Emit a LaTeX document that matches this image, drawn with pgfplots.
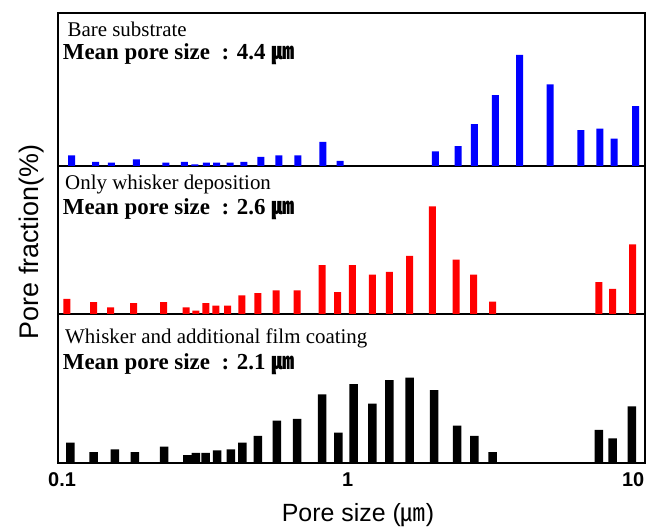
\documentclass[border=0pt]{standalone}
\usepackage{fontspec}
\setmainfont{Liberation Serif}
\setsansfont{Liberation Sans}
\newfontfamily\cjk{Noto Sans CJK KR}
\usepackage{pgfplots}
\pgfplotsset{compat=1.18}
\begin{document}
\begin{tikzpicture}
\useasboundingbox (-58bp,-69bp) rectangle (590bp,463bp);
% panel 3
\begin{axis}[width=587bp, scale only axis, xmode=log, xmin=0.0968, xmax=11.0, ymin=0,
  axis line style={line width=1.4bp}, ytick=\empty, xtick={0.1,1,10},
  major tick length=0pt, minor tick length=0pt, anchor=south west,
  at={(0bp,0bp)}, height=149bp, ymax=440,
  xticklabels={\textbf{0.1},\textbf{1},\textbf{10}},
  xticklabel style={font=\sffamily\fontsize{20}{20}\selectfont, yshift=-6bp}]
\addplot[ybar, bar width=8.5bp, fill=black, draw=none, bar shift=0pt] coordinates {
(0.107,60) (0.129,32) (0.153,40) (0.180,32) (0.228,48) (0.275,23) (0.294,30)
(0.318,30) (0.349,37) (0.390,40) (0.428,60) (0.485,80) (0.565,125) (0.666,130)
(0.814,203) (0.929,90) (1.05,233) (1.22,175) (1.40,245) (1.65,252) (2.01,215)
(2.42,110) (2.78,80) (3.22,32) (7.59,98) (8.48,73) (9.89,167)};
\node[anchor=west, inner sep=0pt, font=\fontsize{21}{21}\selectfont] at (rel axis cs:0.012,0.835) {Whisker and additional film coating};
\node[anchor=west, inner sep=0pt, font=\bfseries\fontsize{23}{23}\selectfont] at (rel axis cs:0.008,0.665) {Mean pore size~ : 2.1 {\cjk ㎛}};
\end{axis}
% panel 2
\begin{axis}[width=587bp, scale only axis, xmode=log, xmin=0.0968, xmax=11.0, ymin=0,
  axis line style={line width=1.4bp}, ytick=\empty, xtick={0.1,1,10},
  major tick length=0pt, minor tick length=0pt, anchor=south west,
  at={(0bp,149bp)}, height=148bp, ymax=440, xticklabels={}]
\addplot[ybar, bar width=7bp, fill=red, draw=none, bar shift=0pt] coordinates {
(0.104,45) (0.129,35) (0.148,20) (0.178,32) (0.227,35) (0.272,20) (0.294,10)
(0.319,32) (0.346,25) (0.380,25) (0.426,55) (0.485,62) (0.562,70) (0.666,70)
(0.814,145) (0.922,65) (1.04,145) (1.22,117) (1.40,125) (1.65,173) (1.98,320)
(2.40,162) (2.76,117) (3.22,37) (7.59,95) (8.48,75) (9.96,207)};
\node[anchor=west, inner sep=0pt, font=\fontsize{21}{21}\selectfont] at (rel axis cs:0.012,0.875) {Only whisker deposition};
\node[anchor=west, inner sep=0pt, font=\bfseries\fontsize{23}{23}\selectfont] at (rel axis cs:0.008,0.71) {Mean pore size~ : 2.6 {\cjk ㎛}};
\end{axis}
% panel 1
\begin{axis}[width=587bp, scale only axis, xmode=log, xmin=0.0968, xmax=11.0, ymin=0,
  axis line style={line width=1.4bp}, ytick=\empty, xtick={0.1,1,10},
  major tick length=0pt, minor tick length=0pt, anchor=south west,
  at={(0bp,297bp)}, height=153bp, ymax=457, xticklabels={}]
\addplot[ybar, bar width=7bp, fill=blue, draw=none, bar shift=0pt] coordinates {
(0.108,32) (0.131,12) (0.149,10) (0.182,20) (0.231,10) (0.268,12) (0.292,5)
(0.320,10) (0.348,10) (0.388,10) (0.433,12) (0.497,27) (0.574,32) (0.670,32)
(0.819,72) (0.942,15) (2.03,44) (2.44,59) (2.78,125) (3.29,212) (4.00,332)
(5.12,244) (6.56,107) (7.65,112) (8.58,82) (10.2,179)};
\node[anchor=west, inner sep=0pt, font=\fontsize{21}{21}\selectfont] at (rel axis cs:0.016,0.895) {Bare substrate};
\node[anchor=west, inner sep=0pt, font=\bfseries\fontsize{23}{23}\selectfont] at (rel axis cs:0.008,0.73) {Mean pore size~ : 4.4 {\cjk ㎛}};
\end{axis}
\node[rotate=90, font=\sffamily\fontsize{27}{27}\selectfont] at (-26bp,221bp) {Pore fraction(\%)};
\node[font=\sffamily\fontsize{25}{25}\selectfont] at (300bp,-52bp) {Pore size ({\cjk ㎛})};
\end{tikzpicture}
\end{document}
